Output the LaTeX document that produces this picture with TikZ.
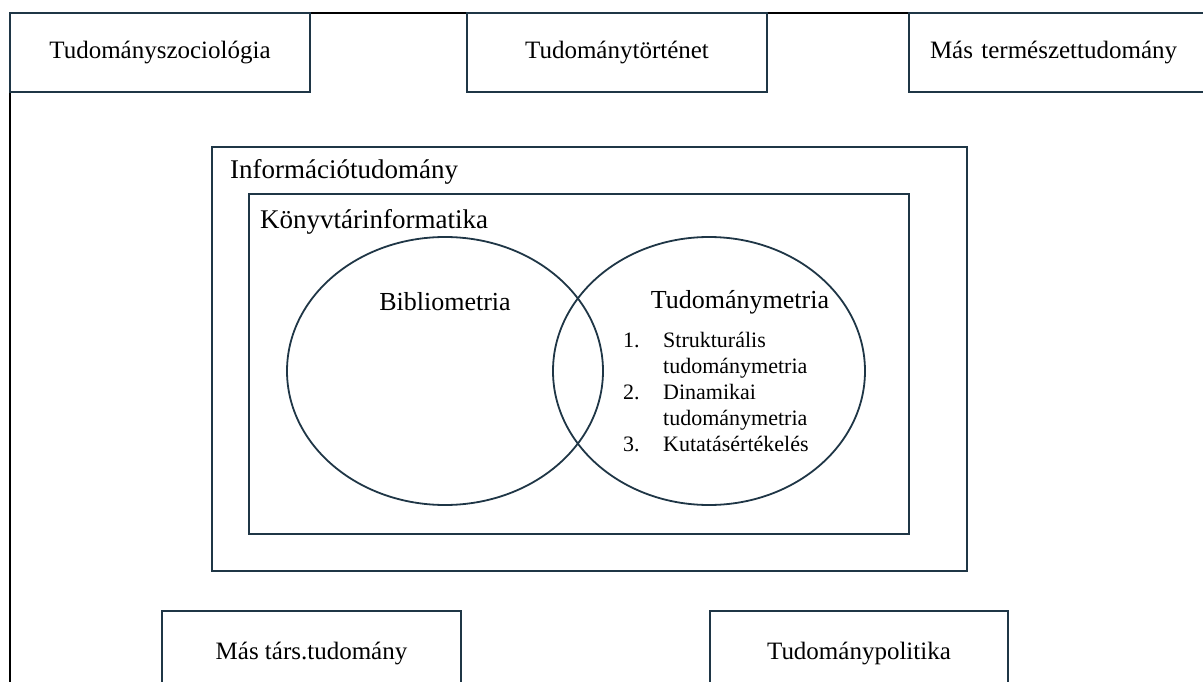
\documentclass[tikz,border=0pt]{standalone}
\usepackage{fontspec}
\setmainfont{Liberation Serif}
\usepackage{array}
\definecolor{navy}{HTML}{1F3646}
\begin{document}
\begin{tikzpicture}[x=1pt,y=-1pt,
  box/.style={draw=navy,line width=1.8pt,rectangle,inner sep=0pt,font=\fontsize{25}{30}\selectfont},
  frame/.style={draw=navy,line width=1.8pt},
  lbl/.style={inner sep=0pt,anchor=west,font=\fontsize{27}{32}\selectfont},
  title/.style={inner sep=0pt,font=\fontsize{26}{31}\selectfont}]
\useasboundingbox (0,0) rectangle (1203,682);
% outer frame
\coordinate (otr) at (1215,13);
\coordinate (otl) at (10,13);
\coordinate (obl) at (10,700);
\draw[black,line width=2.6pt] (otr) -- (otl) -- (obl);
% top boxes
\node[box,minimum width=300pt,minimum height=79pt] (soc) at (160,52.5) {Tudományszociológia};
\node[box,minimum width=300pt,minimum height=79pt] (tort) at (617,52.5) {Tudománytörténet};
\node[box,minimum width=302pt,minimum height=79pt,text width=290pt,align=left] (term) at (1060,52.5) {\hspace{15pt}Más természettudomány};
% bottom boxes
\node[box,minimum width=299pt,minimum height=89pt] (tars) at (311.5,655.5) {\raisebox{9pt}{Más társ.tudomány}};
\node[box,minimum width=298pt,minimum height=89pt] (pol) at (859,655.5) {\raisebox{9pt}{Tudománypolitika}};
% nested rectangles
\draw[frame] (212,147) rectangle (967,571);
\node[lbl] (info) at (230,172) {Információtudomány};
\draw[frame] (249,194) rectangle (909,534);
\node[lbl] (konyv) at (260,222) {Könyvtárinformatika};
% venn
\draw[frame] (445,371) ellipse [x radius=158, y radius=134];
\draw[frame] (709,371) ellipse [x radius=156, y radius=134];
\node[title] (bib) at (445,302) {Bibliometria};
\node[title] (tm) at (740,302) {Tudománymetria};
\node[inner sep=0pt,anchor=base west] (list) at (623,347) {\fontsize{22}{26}\selectfont
  \begin{tabular}[t]{@{}p{40pt}@{}l@{}}
  1. & Strukturális\\
     & tudománymetria\\
  2. & Dinamikai\\
     & tudománymetria\\
  3. & Kutatásértékelés
  \end{tabular}};
\end{tikzpicture}
\end{document}
